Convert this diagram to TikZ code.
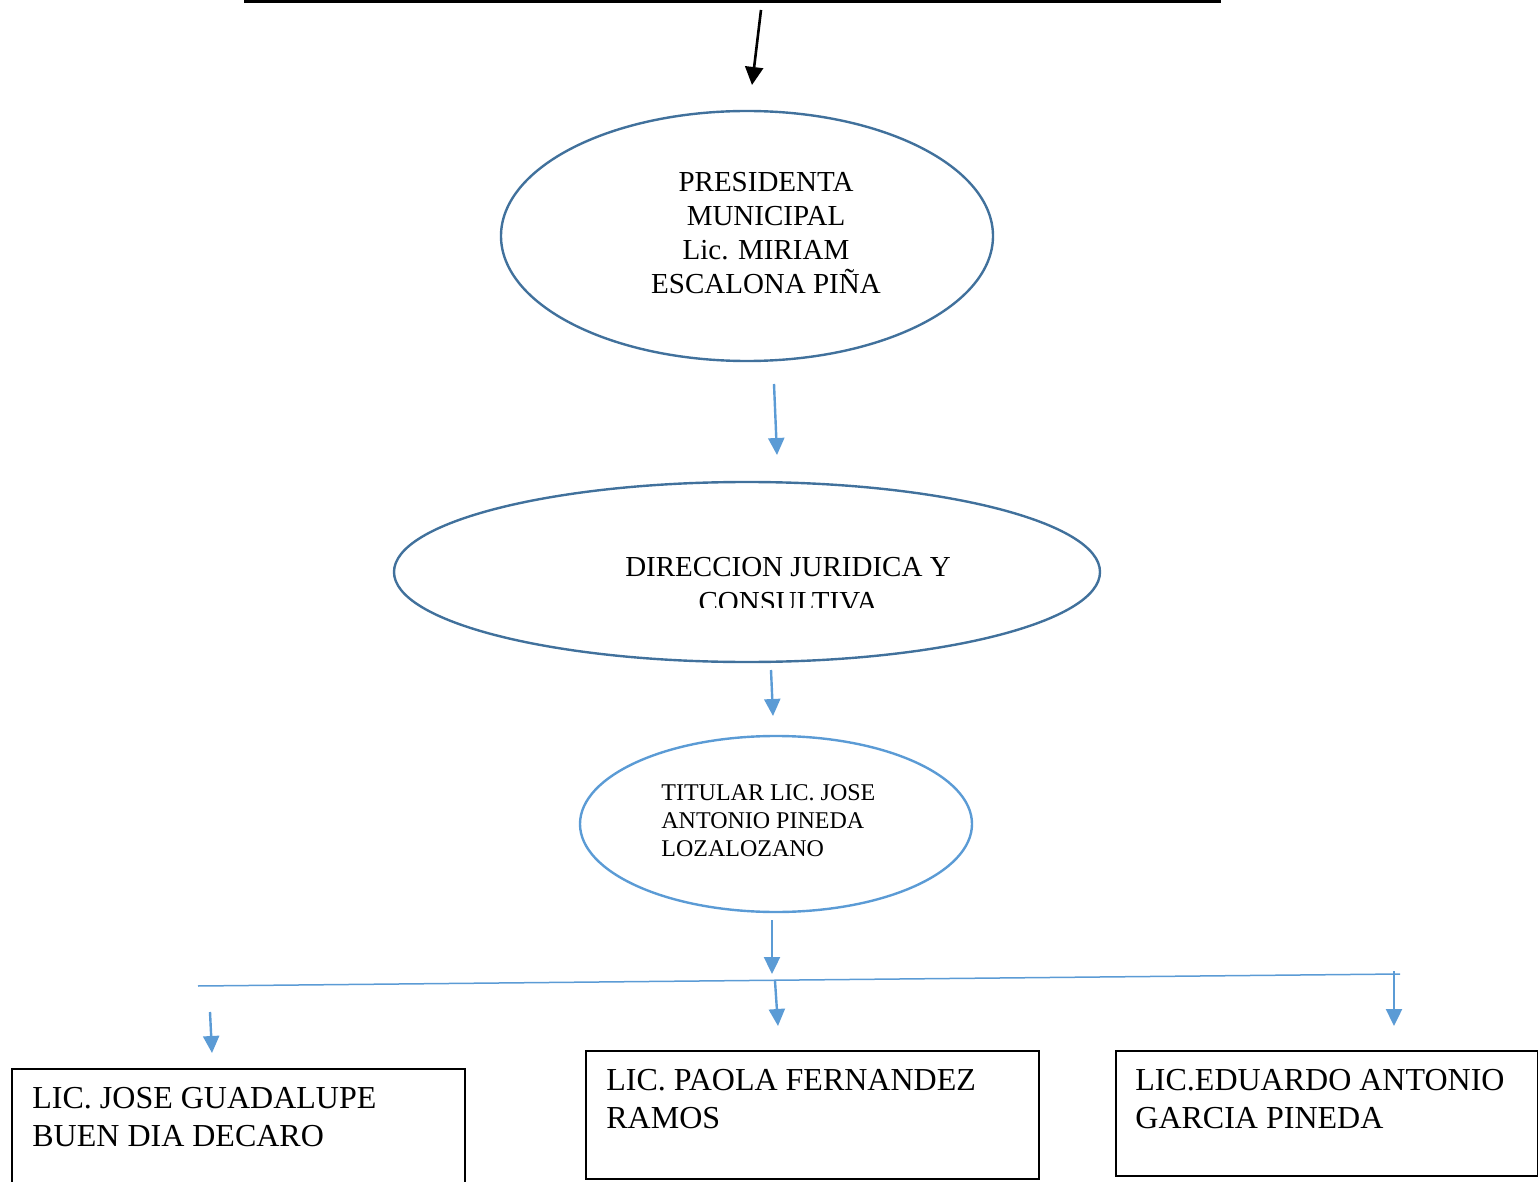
\documentclass[tikz,border=0pt]{standalone}
\usepackage{fontspec}
\setmainfont{Liberation Serif}
\usetikzlibrary{shapes.geometric,arrows.meta}
\definecolor{ovalline}{HTML}{41719C}
\definecolor{lightblue}{HTML}{5B9BD5}
\begin{document}
\begin{tikzpicture}[x=0.5pt,y=-0.5pt,
    oval/.style={ellipse,draw=ovalline,line width=1.2pt,inner sep=0pt},
    arr/.style={-{Triangle[width=8pt,length=8.5pt]},lightblue,line width=1.2pt},
    box/.style={rectangle,draw,line width=0.75pt,anchor=north west,inner sep=0pt},
    boxtxt/.style={anchor=north west,inner sep=0pt,align=left,font=\fontsize{16}{19}\selectfont}]
    \useasboundingbox (0,0) rectangle (1538,1182);

    % top bar and arrow
    \draw[line width=3pt] (244,0) -- (1221,0);
    \coordinate (t0) at (761,10);
    \coordinate (t1) at (752,85);
    \draw[-{Triangle[width=9pt,length=9pt]},line width=1.3pt] (t0) -- (t1);

    % presidenta
    \node[oval,minimum width=246pt,minimum height=125pt] (pres) at (747,236) {};
    \node[align=center,font=\fontsize{14.5}{17}\selectfont] (prestxt) at (766,233)
        {PRESIDENTA\\MUNICIPAL\\Lic. MIRIAM\\ESCALONA PIÑA};
    \coordinate (a0) at (774,384);
    \coordinate (a1) at (777,455);
    \draw[arr] (a0) -- (a1);

    % direccion
    \node[oval,minimum width=353pt,minimum height=90pt] (dir) at (747,572) {};
    \begin{scope}
      \clip (500,540) rectangle (1000,607);
      \node[align=center,inner sep=0pt,anchor=north,font=\fontsize{14.5}{17.5}\selectfont] (dirtxt) at (788,557)
          {DIRECCION JURIDICA Y\\CONSULTIVA};
    \end{scope}
    \coordinate (b0) at (771,670);
    \coordinate (b1) at (773,716);
    \draw[arr] (b0) -- (b1);

    % titular
    \node[oval,draw=lightblue,minimum width=196pt,minimum height=88pt] (tit) at (776,824) {};
    \node[anchor=north west,inner sep=0pt,align=left,font=\fontsize{12}{14}\selectfont] (tittxt) at (661,784)
        {TITULAR LIC. JOSE\\ANTONIO PINEDA\\LOZALOZANO};
    \coordinate (c0) at (772,920);
    \coordinate (c1) at (772,974);
    \draw[arr] (c0) -- (c1);

    % branch line
    \coordinate (l0) at (198,986);
    \coordinate (l1) at (1400,974);
    \draw[lightblue,line width=0.75pt] (l0) -- (l1);
    \coordinate (d0) at (775,981);
    \coordinate (d1) at (778,1026);
    \draw[arr] (d0) -- (d1);
    \coordinate (e0) at (1394,971);
    \coordinate (e1) at (1394,1026);
    \draw[arr] (e0) -- (e1);
    \coordinate (f0) at (210,1012);
    \coordinate (f1) at (212,1053);
    \draw[arr] (f0) -- (f1);

    % boxes
    \node[box,minimum width=226.5pt,minimum height=70pt] (jose) at (11,1068) {};
    \node[boxtxt] (josetxt) at (32,1087) {LIC. JOSE GUADALUPE\\BUEN DIA DECARO};
    \node[box,minimum width=226.5pt,minimum height=64pt] (paola) at (585,1050) {};
    \node[boxtxt] (paolatxt) at (606,1069) {LIC. PAOLA FERNANDEZ\\RAMOS};
    \node[box,minimum width=211pt,minimum height=62.5pt] (eduardo) at (1115,1050) {};
    \node[boxtxt] (eduardotxt) at (1135,1069) {LIC.EDUARDO ANTONIO\\GARCIA PINEDA};
  \end{tikzpicture}
\end{document}
